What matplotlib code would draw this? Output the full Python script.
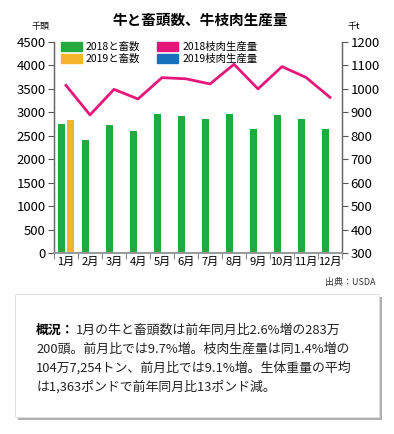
import matplotlib
matplotlib.use("Agg")
import matplotlib.pyplot as plt
import numpy as np
from matplotlib.patches import Rectangle, Patch

plt.rcParams['font.family'] = ['Noto Sans CJK JP', 'DejaVu Sans']

months = ["1月", "2月", "3月", "4月", "5月", "6月", "7月", "8月", "9月", "10月", "11月", "12月"]
heads_2018 = [2760, 2420, 2730, 2600, 2955, 2920, 2850, 2960, 2655, 2940, 2855, 2640]
heads_2019 = [2832]
beef_2018 = [1015, 889, 998, 957, 1048, 1043, 1021, 1105, 1000, 1095, 1049, 964]
beef_2019 = []

GREEN = "#22AA3C"
ORANGE = "#F7B52C"
PINK = "#E5177B"
BLUE = "#1771BA"

W, H = 394, 434
fig = plt.figure(figsize=(W / 100, H / 100), dpi=100)

ax = fig.add_axes([54 / W, 1 - 253 / H, (342 - 54) / W, (253 - 42) / H])
ax2 = ax.twinx()

x = np.arange(len(months))
bw = 0.31
off = 0.19
ax.bar(x - off, heads_2018, width=bw, color=GREEN, label="2018と畜数", zorder=2)
ax.bar(x[:len(heads_2019)] + off, heads_2019, width=bw, color=ORANGE, label="2019と畜数", zorder=2)
ax2.plot(x, beef_2018, color=PINK, lw=2, label="2018枝肉生産量")
ax2.plot(x[:len(beef_2019)], beef_2019, color=BLUE, lw=2, label="2019枝肉生産量")

ax.set_xlim(-0.5, 11.5)
ax.set_ylim(0, 4500)
ax.set_yticks(np.arange(0, 4501, 500))
ax2.set_ylim(300, 1200)
ax2.set_yticks(np.arange(300, 1201, 100))

ax.set_xticks(x)
ax.set_xticklabels(months, fontsize=8)
ax.set_xticks(np.arange(-0.5, 12, 1), minor=True)
ax.tick_params(axis='x', which='major', length=0, pad=3)
ax.tick_params(axis='x', which='minor', length=4, color="#888888", width=0.8)
ax.tick_params(axis='y', labelsize=9.5, length=4, width=0.8, color="#555555", pad=2)
ax2.tick_params(axis='y', labelsize=9.5, length=4, width=0.8, color="#555555", pad=2)

for a in (ax, ax2):
    a.spines['top'].set_visible(False)
    a.spines['left'].set_color("#666666")
    a.spines['right'].set_color("#666666")
    a.spines['bottom'].set_color("#999999")
    a.spines['left'].set_linewidth(0.9)
    a.spines['right'].set_linewidth(0.9)
    a.spines['bottom'].set_linewidth(1.2)

handles = [Patch(color=GREEN), Patch(color=ORANGE), Patch(color=PINK), Patch(color=BLUE)]
labels = ["2018と畜数", "2019と畜数", "2018枝肉生産量", "2019枝肉生産量"]
leg = ax2.legend(handles, labels, ncol=2, loc='upper left', bbox_to_anchor=(0.01, 1.02),
                 frameon=False, fontsize=7.5, handlelength=2.0, handleheight=0.9,
                 handletextpad=0.4, columnspacing=1.6, labelspacing=0.15, borderaxespad=0)

fig.text(200 / W, 1 - 20 / H, "牛と畜頭数、牛枝肉生産量", ha='center', va='center',
         fontsize=10.5, fontweight='bold')
fig.text(40 / W, 1 - 26 / H, "千頭", ha='center', va='center', fontsize=6.5)
fig.text(354 / W, 1 - 26 / H, "千t", ha='center', va='center', fontsize=6.5)
fig.text(376 / W, 1 - 283 / H, "出典：USDA", ha='right', va='center', fontsize=6.5, color="#333333")

# summary box with shadow
fig.patches.append(Rectangle((18 / W, 1 - 420 / H), (379 - 15) / W, (417 - 294) / H,
                             transform=fig.transFigure, facecolor="#b0b0b0", edgecolor='none', zorder=0))
fig.patches.append(Rectangle((15 / W, 1 - 417 / H), (379 - 15) / W, (417 - 294) / H,
                             transform=fig.transFigure, facecolor="white", edgecolor="#dddddd",
                             lw=0.6, zorder=1))

lines = [
    "1月の牛と畜頭数は前年同月比2.6%増の283万",
    "200頭。前月比では9.7%増。枝肉生産量は同1.4%増の",
    "104万7,254トン、前月比では9.1%増。生体重量の平均",
    "は1,363ポンドで前年同月比13ポンド減。",
]
ys = [334, 353, 372, 391]
fs = 9.3
bold = fig.text(36 / W, 1 - ys[0] / H, "概況：", fontsize=fs, fontweight='bold', va='baseline', ha='left')
fig.canvas.draw()
bb = bold.get_window_extent()
fig.text(bb.x1 / W + 0.004, 1 - ys[0] / H, lines[0], fontsize=fs, va='baseline', ha='left', color="#222222")
for ln, yy in zip(lines[1:], ys[1:]):
    fig.text(36 / W, 1 - yy / H, ln, fontsize=fs, va='baseline', ha='left', color="#222222")

fig.savefig("out.png", dpi=100)
